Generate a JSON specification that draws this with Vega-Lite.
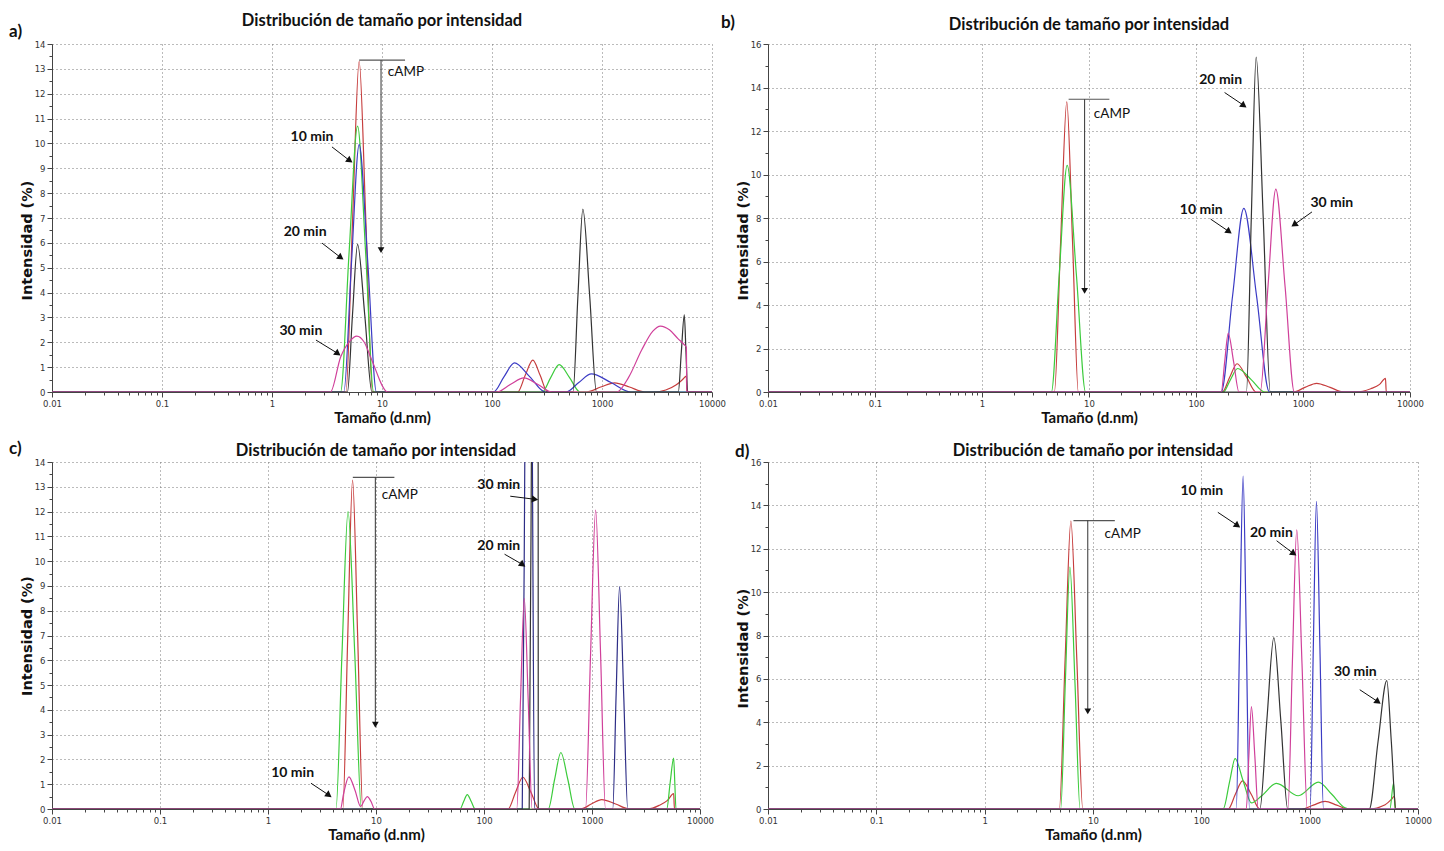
{
"$schema": "https://vega.github.io/schema/vega-lite/v6.json",
"background": "white",
"padding": {"left": 9, "top": 13, "right": 5, "bottom": 5},
"columns": 2,
"bounds": "flush",
"spacing": {"row": 70, "column": 56},
"resolve": {"scale": {"x": "independent", "y": "independent"}},
"config": {
 "view": {"stroke": null},
 "font": "Lato",
 "axis": {"domainColor": "#444", "tickColor": "#444", "labelFont": "DejaVu Sans", "labelFontSize": 8.5, "labelColor": "#333", "gridColor": "#777", "gridDash": [1, 3], "gridWidth": 1, "titleFont": "Lato", "titleFontWeight": "bold", "titleColor": "#111"},
 "axisX": {"titleFontSize": 15, "titlePadding": 3},
 "axisY": {"titleFont": "DejaVu Sans", "titleFontSize": 14.5, "titlePadding": 0},
 "title": {"font": "Lato", "fontSize": 16.5, "fontWeight": "bold", "color": "#111"}
},
"datasets": {
 "curves": [
  {"p":"a","s":"red","x":0.01,"y":0},{"p":"a","s":"red","x":4.7,"y":0},{"p":"a","s":"red","x":5.4,"y":6.9},{"p":"a","s":"red","x":6.2,"y":13.3},{"p":"a","s":"red","x":7.13,"y":6.9},{"p":"a","s":"red","x":8.2,"y":0},{"p":"a","s":"red","x":171,"y":0},{"p":"a","s":"red","x":200.5,"y":0.67},{"p":"a","s":"red","x":235,"y":1.28},{"p":"a","s":"red","x":274,"y":0.67},{"p":"a","s":"red","x":320,"y":0},{"p":"a","s":"red","x":728,"y":0},{"p":"a","s":"red","x":973,"y":0.2},{"p":"a","s":"red","x":1300,"y":0.37},{"p":"a","s":"red","x":1777,"y":0.2},{"p":"a","s":"red","x":2430,"y":0},{"p":"a","s":"red","x":2950,"y":0},{"p":"a","s":"red","x":3800,"y":0.08},{"p":"a","s":"red","x":4700,"y":0.28},{"p":"a","s":"red","x":5400,"y":0.5},{"p":"a","s":"red","x":5850,"y":0.64},{"p":"a","s":"red","x":5900,"y":0},{"p":"a","s":"red","x":10000,"y":0},
  {"p":"a","s":"green","x":0.01,"y":0},{"p":"a","s":"green","x":4.2,"y":0},{"p":"a","s":"green","x":5.02,"y":5.6},{"p":"a","s":"green","x":6.0,"y":10.7},{"p":"a","s":"green","x":7.1,"y":5.6},{"p":"a","s":"green","x":8.4,"y":0},{"p":"a","s":"green","x":286,"y":0},{"p":"a","s":"green","x":341.6,"y":0.58},{"p":"a","s":"green","x":408,"y":1.1},{"p":"a","s":"green","x":507,"y":0.58},{"p":"a","s":"green","x":631,"y":0},{"p":"a","s":"green","x":10000,"y":0},
  {"p":"a","s":"blue","x":0.01,"y":0},{"p":"a","s":"blue","x":4.5,"y":0},{"p":"a","s":"blue","x":5.28,"y":5.2},{"p":"a","s":"blue","x":6.2,"y":9.95},{"p":"a","s":"blue","x":7.43,"y":5.2},{"p":"a","s":"blue","x":8.9,"y":0},{"p":"a","s":"blue","x":103,"y":0},{"p":"a","s":"blue","x":128.4,"y":0.61},{"p":"a","s":"blue","x":160,"y":1.17},{"p":"a","s":"blue","x":220.9,"y":0.61},{"p":"a","s":"blue","x":305,"y":0},{"p":"a","s":"blue","x":472,"y":0},{"p":"a","s":"blue","x":615,"y":0.38},{"p":"a","s":"blue","x":801,"y":0.73},{"p":"a","s":"blue","x":1207,"y":0.38},{"p":"a","s":"blue","x":1820,"y":0},{"p":"a","s":"blue","x":10000,"y":0},
  {"p":"a","s":"black","x":0.01,"y":0},{"p":"a","s":"black","x":4.85,"y":0},{"p":"a","s":"black","x":5.39,"y":3.1},{"p":"a","s":"black","x":6.0,"y":5.94},{"p":"a","s":"black","x":6.97,"y":3.1},{"p":"a","s":"black","x":8.1,"y":0},{"p":"a","s":"black","x":545,"y":0},{"p":"a","s":"black","x":604,"y":3.85},{"p":"a","s":"black","x":670,"y":7.36},{"p":"a","s":"black","x":773,"y":3.85},{"p":"a","s":"black","x":891,"y":0},{"p":"a","s":"black","x":4940,"y":0},{"p":"a","s":"black","x":5260,"y":1.6},{"p":"a","s":"black","x":5600,"y":3.1},{"p":"a","s":"black","x":5801,"y":1.6},{"p":"a","s":"black","x":6010,"y":0},{"p":"a","s":"black","x":10000,"y":0},
  {"p":"a","s":"magenta","x":0.01,"y":0},{"p":"a","s":"magenta","x":3.4,"y":0},{"p":"a","s":"magenta","x":4.2,"y":1.4},{"p":"a","s":"magenta","x":5.1,"y":2.05},{"p":"a","s":"magenta","x":5.9,"y":2.25},{"p":"a","s":"magenta","x":6.9,"y":2.0},{"p":"a","s":"magenta","x":8.05,"y":1.3},{"p":"a","s":"magenta","x":11.3,"y":0},{"p":"a","s":"magenta","x":110,"y":0},{"p":"a","s":"magenta","x":146.5,"y":0.3},{"p":"a","s":"magenta","x":195,"y":0.57},{"p":"a","s":"magenta","x":262,"y":0.3},{"p":"a","s":"magenta","x":353,"y":0},{"p":"a","s":"magenta","x":1358,"y":0},{"p":"a","s":"magenta","x":1750,"y":0.6},{"p":"a","s":"magenta","x":2300,"y":1.7},{"p":"a","s":"magenta","x":2900,"y":2.45},{"p":"a","s":"magenta","x":3400,"y":2.65},{"p":"a","s":"magenta","x":4100,"y":2.5},{"p":"a","s":"magenta","x":4900,"y":2.15},{"p":"a","s":"magenta","x":5600,"y":1.9},{"p":"a","s":"magenta","x":5850,"y":1.8},{"p":"a","s":"magenta","x":5900,"y":0},{"p":"a","s":"magenta","x":10000,"y":0},

  {"p":"b","s":"red","x":0.01,"y":0},{"p":"b","s":"red","x":4.75,"y":0},{"p":"b","s":"red","x":5.43,"y":6.9},{"p":"b","s":"red","x":6.2,"y":13.34},{"p":"b","s":"red","x":7.02,"y":6.9},{"p":"b","s":"red","x":7.95,"y":0},{"p":"b","s":"red","x":176,"y":0},{"p":"b","s":"red","x":206.4,"y":0.68},{"p":"b","s":"red","x":242,"y":1.3},{"p":"b","s":"red","x":297,"y":0.68},{"p":"b","s":"red","x":365,"y":0},{"p":"b","s":"red","x":810,"y":0},{"p":"b","s":"red","x":1042,"y":0.21},{"p":"b","s":"red","x":1340,"y":0.4},{"p":"b","s":"red","x":1793,"y":0.21},{"p":"b","s":"red","x":2400,"y":0},{"p":"b","s":"red","x":3100,"y":0},{"p":"b","s":"red","x":4300,"y":0.15},{"p":"b","s":"red","x":5200,"y":0.35},{"p":"b","s":"red","x":5900,"y":0.63},{"p":"b","s":"red","x":6000,"y":0},{"p":"b","s":"red","x":10000,"y":0},
  {"p":"b","s":"green","x":0.01,"y":0},{"p":"b","s":"green","x":4.45,"y":0},{"p":"b","s":"green","x":5.27,"y":5.4},{"p":"b","s":"green","x":6.25,"y":10.42},{"p":"b","s":"green","x":7.62,"y":5.4},{"p":"b","s":"green","x":9.3,"y":0},{"p":"b","s":"green","x":180,"y":0},{"p":"b","s":"green","x":210,"y":0.57},{"p":"b","s":"green","x":245,"y":1.08},{"p":"b","s":"green","x":328,"y":0.57},{"p":"b","s":"green","x":440,"y":0},{"p":"b","s":"green","x":10000,"y":0},
  {"p":"b","s":"blue","x":0.01,"y":0},{"p":"b","s":"blue","x":172,"y":0},{"p":"b","s":"blue","x":219.5,"y":4.4},{"p":"b","s":"blue","x":280,"y":8.44},{"p":"b","s":"blue","x":368.5,"y":4.4},{"p":"b","s":"blue","x":485,"y":0},{"p":"b","s":"blue","x":10000,"y":0},
  {"p":"b","s":"black","x":0.01,"y":0},{"p":"b","s":"black","x":296,"y":0},{"p":"b","s":"black","x":328.7,"y":8.0},{"p":"b","s":"black","x":365,"y":15.4},{"p":"b","s":"black","x":425,"y":8.0},{"p":"b","s":"black","x":495,"y":0},{"p":"b","s":"black","x":10000,"y":0},
  {"p":"b","s":"magenta","x":0.01,"y":0},{"p":"b","s":"magenta","x":172,"y":0},{"p":"b","s":"magenta","x":185.5,"y":1.4},{"p":"b","s":"magenta","x":200,"y":2.7},{"p":"b","s":"magenta","x":224.5,"y":1.4},{"p":"b","s":"magenta","x":252,"y":0},{"p":"b","s":"magenta","x":398,"y":0},{"p":"b","s":"magenta","x":470.8,"y":4.85},{"p":"b","s":"magenta","x":557,"y":9.33},{"p":"b","s":"magenta","x":680,"y":4.85},{"p":"b","s":"magenta","x":830,"y":0},{"p":"b","s":"magenta","x":10000,"y":0},

  {"p":"c","s":"red","x":0.01,"y":0},{"p":"c","s":"red","x":4.93,"y":0},{"p":"c","s":"red","x":5.47,"y":6.9},{"p":"c","s":"red","x":6.07,"y":13.27},{"p":"c","s":"red","x":6.77,"y":6.9},{"p":"c","s":"red","x":7.55,"y":0},{"p":"c","s":"red","x":167,"y":0},{"p":"c","s":"red","x":195.6,"y":0.67},{"p":"c","s":"red","x":229,"y":1.28},{"p":"c","s":"red","x":272.4,"y":0.67},{"p":"c","s":"red","x":324,"y":0},{"p":"c","s":"red","x":789,"y":0},{"p":"c","s":"red","x":985,"y":0.2},{"p":"c","s":"red","x":1230,"y":0.38},{"p":"c","s":"red","x":1656,"y":0.2},{"p":"c","s":"red","x":2230,"y":0},{"p":"c","s":"red","x":3300,"y":0},{"p":"c","s":"red","x":4200,"y":0.15},{"p":"c","s":"red","x":5000,"y":0.35},{"p":"c","s":"red","x":5700,"y":0.62},{"p":"c","s":"red","x":5800,"y":0},{"p":"c","s":"red","x":10000,"y":0},
  {"p":"c","s":"green","x":0.01,"y":0},{"p":"c","s":"green","x":4.26,"y":0},{"p":"c","s":"green","x":4.84,"y":6.25},{"p":"c","s":"green","x":5.51,"y":12.0},{"p":"c","s":"green","x":6.36,"y":6.25},{"p":"c","s":"green","x":7.33,"y":0},{"p":"c","s":"green","x":60,"y":0},{"p":"c","s":"green","x":64.8,"y":0.3},{"p":"c","s":"green","x":70,"y":0.58},{"p":"c","s":"green","x":76.2,"y":0.3},{"p":"c","s":"green","x":83,"y":0},{"p":"c","s":"green","x":394,"y":0},{"p":"c","s":"green","x":450.5,"y":1.19},{"p":"c","s":"green","x":515,"y":2.28},{"p":"c","s":"green","x":597.4,"y":1.19},{"p":"c","s":"green","x":693,"y":0},{"p":"c","s":"green","x":4920,"y":0},{"p":"c","s":"green","x":5296,"y":1.07},{"p":"c","s":"green","x":5700,"y":2.05},{"p":"c","s":"green","x":5843,"y":1.07},{"p":"c","s":"green","x":5990,"y":0},{"p":"c","s":"green","x":10000,"y":0},
  {"p":"c","s":"navy","x":0.01,"y":0},{"p":"c","s":"navy","x":226,"y":0},{"p":"c","s":"navy","x":240,"y":16},{"p":"c","s":"navy","x":257,"y":38},{"p":"c","s":"navy","x":279,"y":16},{"p":"c","s":"navy","x":294,"y":0},{"p":"c","s":"navy","x":1556,"y":0},{"p":"c","s":"navy","x":1673.5,"y":4.66},{"p":"c","s":"navy","x":1800,"y":8.97},{"p":"c","s":"navy","x":1964,"y":4.66},{"p":"c","s":"navy","x":2143,"y":0},{"p":"c","s":"navy","x":10000,"y":0},
  {"p":"c","s":"black","x":0.01,"y":0},{"p":"c","s":"black","x":262,"y":0},{"p":"c","s":"black","x":279,"y":20},{"p":"c","s":"black","x":316,"y":40},{"p":"c","s":"black","x":318,"y":0},{"p":"c","s":"black","x":10000,"y":0},
  {"p":"c","s":"magenta","x":0.01,"y":0},{"p":"c","s":"magenta","x":4.69,"y":0},{"p":"c","s":"magenta","x":5.0,"y":0.6},{"p":"c","s":"magenta","x":5.61,"y":1.3},{"p":"c","s":"magenta","x":6.4,"y":0.75},{"p":"c","s":"magenta","x":7.2,"y":0.1},{"p":"c","s":"magenta","x":7.8,"y":0.35},{"p":"c","s":"magenta","x":8.3,"y":0.5},{"p":"c","s":"magenta","x":9.0,"y":0.3},{"p":"c","s":"magenta","x":9.7,"y":0},{"p":"c","s":"magenta","x":201,"y":0},{"p":"c","s":"magenta","x":217.8,"y":4.4},{"p":"c","s":"magenta","x":236,"y":8.5},{"p":"c","s":"magenta","x":256.6,"y":4.4},{"p":"c","s":"magenta","x":279,"y":0},{"p":"c","s":"magenta","x":871,"y":0},{"p":"c","s":"magenta","x":970.3,"y":6.27},{"p":"c","s":"magenta","x":1081,"y":12.06},{"p":"c","s":"magenta","x":1200.4,"y":6.27},{"p":"c","s":"magenta","x":1333,"y":0},{"p":"c","s":"magenta","x":10000,"y":0},

  {"p":"d","s":"red","x":0.01,"y":0},{"p":"d","s":"red","x":4.89,"y":0},{"p":"d","s":"red","x":5.53,"y":6.9},{"p":"d","s":"red","x":6.25,"y":13.28},{"p":"d","s":"red","x":7.09,"y":6.9},{"p":"d","s":"red","x":8.05,"y":0},{"p":"d","s":"red","x":177,"y":0},{"p":"d","s":"red","x":206.1,"y":0.68},{"p":"d","s":"red","x":240,"y":1.3},{"p":"d","s":"red","x":288.6,"y":0.68},{"p":"d","s":"red","x":347,"y":0},{"p":"d","s":"red","x":843,"y":0},{"p":"d","s":"red","x":1081,"y":0.18},{"p":"d","s":"red","x":1387,"y":0.35},{"p":"d","s":"red","x":1777,"y":0.18},{"p":"d","s":"red","x":2278,"y":0},{"p":"d","s":"red","x":3490,"y":0},{"p":"d","s":"red","x":4980,"y":0.2},{"p":"d","s":"red","x":5700,"y":0.45},{"p":"d","s":"red","x":6080,"y":0.6},{"p":"d","s":"red","x":6150,"y":0},{"p":"d","s":"red","x":10000,"y":0},
  {"p":"d","s":"green","x":0.01,"y":0},{"p":"d","s":"green","x":5.03,"y":0},{"p":"d","s":"green","x":5.55,"y":5.8},{"p":"d","s":"green","x":6.12,"y":11.15},{"p":"d","s":"green","x":6.82,"y":5.8},{"p":"d","s":"green","x":7.6,"y":0},{"p":"d","s":"green","x":159,"y":0},{"p":"d","s":"green","x":183,"y":1.3},{"p":"d","s":"green","x":205,"y":2.32},{"p":"d","s":"green","x":243,"y":1.3},{"p":"d","s":"green","x":290,"y":0.28},{"p":"d","s":"green","x":359,"y":0.6},{"p":"d","s":"green","x":494,"y":1.18},{"p":"d","s":"green","x":785,"y":0.61},{"p":"d","s":"green","x":1203,"y":1.24},{"p":"d","s":"green","x":1600,"y":0.68},{"p":"d","s":"green","x":2125,"y":0.05},{"p":"d","s":"green","x":2300,"y":0},{"p":"d","s":"green","x":5500,"y":0},{"p":"d","s":"green","x":5950,"y":1.2},{"p":"d","s":"green","x":6150,"y":0},{"p":"d","s":"green","x":10000,"y":0},
  {"p":"d","s":"blue","x":0.01,"y":0},{"p":"d","s":"blue","x":210,"y":0},{"p":"d","s":"blue","x":225.9,"y":8.0},{"p":"d","s":"blue","x":243,"y":15.35},{"p":"d","s":"blue","x":259.9,"y":8.0},{"p":"d","s":"blue","x":278,"y":0},{"p":"d","s":"blue","x":1010,"y":0},{"p":"d","s":"blue","x":1080,"y":7.4},{"p":"d","s":"blue","x":1155,"y":14.18},{"p":"d","s":"blue","x":1244,"y":7.4},{"p":"d","s":"blue","x":1340,"y":0},{"p":"d","s":"blue","x":10000,"y":0},
  {"p":"d","s":"black","x":0.01,"y":0},{"p":"d","s":"black","x":347,"y":0},{"p":"d","s":"black","x":402.6,"y":4.1},{"p":"d","s":"black","x":467,"y":7.9},{"p":"d","s":"black","x":541.1,"y":4.1},{"p":"d","s":"black","x":627,"y":0},{"p":"d","s":"black","x":3550,"y":0},{"p":"d","s":"black","x":4276,"y":3.1},{"p":"d","s":"black","x":5150,"y":5.92},{"p":"d","s":"black","x":5673,"y":3.1},{"p":"d","s":"black","x":6250,"y":0},{"p":"d","s":"black","x":10000,"y":0},
  {"p":"d","s":"magenta","x":0.01,"y":0},{"p":"d","s":"magenta","x":260,"y":0},{"p":"d","s":"magenta","x":274.6,"y":2.45},{"p":"d","s":"magenta","x":290,"y":4.72},{"p":"d","s":"magenta","x":311.7,"y":2.45},{"p":"d","s":"magenta","x":335,"y":0},{"p":"d","s":"magenta","x":630,"y":0},{"p":"d","s":"magenta","x":692,"y":6.7},{"p":"d","s":"magenta","x":760,"y":12.87},{"p":"d","s":"magenta","x":849.7,"y":6.7},{"p":"d","s":"magenta","x":950,"y":0},{"p":"d","s":"magenta","x":10000,"y":0}
 ],
 "notes": [
  {"p":"a","k":"bracket","x":6.2,"x2":16.2,"y":13.35},
  {"p":"a","k":"stem","x":9.8,"y":5.71,"y2":13.35},
  {"p":"a","k":"camp","x":11.3,"y":12.87,"t":"cAMP"},
  {"p":"a","k":"label","x":2.31,"y":10.26,"t":"10 min"},
  {"p":"a","k":"se","x":5.01,"y":9.33,"x2":3.51,"y2":9.86},
  {"p":"a","k":"label","x":2.0,"y":6.44,"t":"20 min"},
  {"p":"a","k":"se","x":4.15,"y":5.43,"x2":2.85,"y2":5.99},
  {"p":"a","k":"label","x":1.83,"y":2.45,"t":"30 min"},
  {"p":"a","k":"se","x":3.9,"y":1.57,"x2":2.51,"y2":2.09},
  {"p":"a","k":"letter","x":0.00407,"y":14.48,"t":"a)"},
  {"p":"b","k":"bracket","x":6.45,"x2":15.5,"y":13.46},
  {"p":"b","k":"stem","x":9.1,"y":4.65,"y2":13.46},
  {"p":"b","k":"camp","x":11.1,"y":12.8,"t":"cAMP"},
  {"p":"b","k":"label","x":170,"y":14.33,"t":"20 min"},
  {"p":"b","k":"se","x":275,"y":13.2,"x2":185,"y2":13.77},
  {"p":"b","k":"label","x":112,"y":8.37,"t":"10 min"},
  {"p":"b","k":"se","x":200,"y":7.4,"x2":137,"y2":7.95},
  {"p":"b","k":"label","x":1860,"y":8.68,"t":"30 min"},
  {"p":"b","k":"sw","x":841,"y":7.72,"x2":1213,"y2":8.28},
  {"p":"b","k":"letter","x":0.00364,"y":16.97,"t":"b)"},
  {"p":"c","k":"bracket","x":6.1,"x2":14.8,"y":13.38},
  {"p":"c","k":"stem","x":9.86,"y":3.4,"y2":13.38},
  {"p":"c","k":"camp","x":11.3,"y":12.66,"t":"cAMP"},
  {"p":"c","k":"label","x":1.69,"y":1.47,"t":"10 min"},
  {"p":"c","k":"se","x":3.6,"y":0.58,"x2":2.5,"y2":1.04},
  {"p":"c","k":"label","x":137,"y":13.08,"t":"30 min"},
  {"p":"c","k":"e","x":290,"y":12.5,"x2":175,"y2":12.62},
  {"p":"c","k":"label","x":137,"y":10.6,"t":"20 min"},
  {"p":"c","k":"se","x":224,"y":9.88,"x2":155,"y2":10.28},
  {"p":"c","k":"letter","x":0.004,"y":14.52,"t":"c)"},
  {"p":"d","k":"bracket","x":6.6,"x2":15.9,"y":13.3},
  {"p":"d","k":"stem","x":8.95,"y":4.5,"y2":13.3},
  {"p":"d","k":"camp","x":12.8,"y":12.7,"t":"cAMP"},
  {"p":"d","k":"label","x":101,"y":14.67,"t":"10 min"},
  {"p":"d","k":"se","x":212,"y":13.1,"x2":142,"y2":13.68},
  {"p":"d","k":"label","x":443,"y":12.74,"t":"20 min"},
  {"p":"d","k":"se","x":700,"y":11.8,"x2":495,"y2":12.37},
  {"p":"d","k":"label","x":2640,"y":6.34,"t":"30 min"},
  {"p":"d","k":"se","x":4200,"y":4.97,"x2":2900,"y2":5.5},
  {"p":"d","k":"letter","x":0.00496,"y":16.46,"t":"d)"}
 ]
},
"concat": [
 {
  "width": 660, "height": 348,
  "title": {"text": "Distribución de tamaño por intensidad", "offset": -6.5},
  "encoding": {
   "x": {"field": "x", "type": "quantitative", "scale": {"type": "log", "domain": [0.01, 10000], "nice": false},
    "axis": {"title": "Tamaño (d.nm)", "values": [0.01,0.02,0.03,0.04,0.05,0.06,0.07,0.08,0.09,0.1,0.2,0.3,0.4,0.5,0.6,0.7,0.8,0.9,1,2,3,4,5,6,7,8,9,10,20,30,40,50,60,70,80,90,100,200,300,400,500,600,700,800,900,1000,2000,3000,4000,5000,6000,7000,8000,9000,10000], "format": "~g", "labelExpr": "indexof([0.01,0.1,1,10,100,1000,10000], datum.value) >= 0 ? datum.label : ''", "labelOverlap": false, "labelFlush": false, "grid": true, "gridOpacity": {"condition": {"test": "indexof([0.01,0.1,1,10,100,1000,10000], datum.value) >= 0", "value": 1}, "value": 0}, "tickSize": {"condition": {"test": "indexof([0.01,0.1,1,10,100,1000,10000], datum.value) >= 0", "value": 5}, "value": 3}}},
   "y": {"field": "y", "type": "quantitative", "scale": {"domain": [0, 14], "nice": false, "zero": false},
    "axis": {"title": "Intensidad (%)", "titleY": 196, "values": [0,0.5,1,1.5,2,2.5,3,3.5,4,4.5,5,5.5,6,6.5,7,7.5,8,8.5,9,9.5,10,10.5,11,11.5,12,12.5,13,13.5,14], "format": "~g", "labelExpr": "datum.value % 1 === 0 ? datum.label : ''", "labelOverlap": false, "labelFlush": false, "grid": true, "gridOpacity": {"condition": {"test": "datum.value % 1 === 0", "value": 1}, "value": 0}, "tickSize": {"condition": {"test": "datum.value % 1 === 0", "value": 5}, "value": 3}}}
  },
  "layer": [
   {"data": {"name": "curves"}, "transform": [{"filter": "datum.p === 'a'"}], "mark": {"type": "line", "interpolate": "monotone", "strokeWidth": 1.2, "clip": true}, "encoding": {"color": {"field": "s", "type": "nominal", "scale": {"domain": ["red","green","blue","black","navy","magenta"], "range": ["#C63D3D","#3CCB3C","#3B3BC4","#333333","#2D2D86","#D0409A"]}, "legend": null}}},
   {"data": {"name": "notes"}, "transform": [{"filter": "datum.p === 'a' && datum.k === 'bracket'"}], "mark": {"type": "rule", "color": "#555", "strokeWidth": 1.2}, "encoding": {"x2": {"field": "x2"}}},
   {"data": {"name": "notes"}, "transform": [{"filter": "datum.p === 'a' && datum.k === 'stem'"}], "mark": {"type": "rule", "color": "#333", "strokeWidth": 1}, "encoding": {"y2": {"field": "y2"}}},
   {"data": {"name": "notes"}, "transform": [{"filter": "datum.p === 'a' && (datum.k === 'se' || datum.k === 'sw' || datum.k === 'e')"}], "mark": {"type": "rule", "color": "#111", "strokeWidth": 1}, "encoding": {"x2": {"field": "x2"}, "y2": {"field": "y2"}}},
   {"data": {"name": "notes"}, "transform": [{"filter": "datum.p === 'a' && datum.k === 'stem'"}], "mark": {"type": "point", "shape": "triangle-down", "filled": true, "color": "#111", "size": 45, "opacity": 1}},
   {"data": {"name": "notes"}, "transform": [{"filter": "datum.p === 'a' && datum.k === 'se'"}], "mark": {"type": "point", "shape": "triangle", "angle": 126, "filled": true, "color": "#111", "size": 55, "opacity": 1}},
   {"data": {"name": "notes"}, "transform": [{"filter": "datum.p === 'a' && datum.k === 'label'"}], "mark": {"type": "text", "font": "Lato", "fontWeight": "bold", "fontSize": 14, "color": "#111"}, "encoding": {"text": {"field": "t"}}},
   {"data": {"name": "notes"}, "transform": [{"filter": "datum.p === 'a' && datum.k === 'camp'"}], "mark": {"type": "text", "align": "left", "font": "Lato", "fontSize": 13.5, "color": "#111"}, "encoding": {"text": {"field": "t"}}},
   {"data": {"name": "notes"}, "transform": [{"filter": "datum.p === 'a' && datum.k === 'letter'"}], "mark": {"type": "text", "align": "left", "font": "Lato", "fontWeight": "bold", "fontSize": 17, "color": "#111"}, "encoding": {"text": {"field": "t"}}}
  ]
 },
 {
  "width": 642, "height": 348,
  "title": {"text": "Distribución de tamaño por intensidad", "offset": -19.5},
  "encoding": {
   "x": {"field": "x", "type": "quantitative", "scale": {"type": "log", "domain": [0.01, 10000], "nice": false},
    "axis": {"title": "Tamaño (d.nm)", "values": [0.01,0.02,0.03,0.04,0.05,0.06,0.07,0.08,0.09,0.1,0.2,0.3,0.4,0.5,0.6,0.7,0.8,0.9,1,2,3,4,5,6,7,8,9,10,20,30,40,50,60,70,80,90,100,200,300,400,500,600,700,800,900,1000,2000,3000,4000,5000,6000,7000,8000,9000,10000], "format": "~g", "labelExpr": "indexof([0.01,0.1,1,10,100,1000,10000], datum.value) >= 0 ? datum.label : ''", "labelOverlap": false, "labelFlush": false, "grid": true, "gridOpacity": {"condition": {"test": "indexof([0.01,0.1,1,10,100,1000,10000], datum.value) >= 0", "value": 1}, "value": 0}, "tickSize": {"condition": {"test": "indexof([0.01,0.1,1,10,100,1000,10000], datum.value) >= 0", "value": 5}, "value": 3}}},
   "y": {"field": "y", "type": "quantitative", "scale": {"domain": [0, 16], "nice": false, "zero": false},
    "axis": {"title": "Intensidad (%)", "titleY": 196, "values": [0,1,2,3,4,5,6,7,8,9,10,11,12,13,14,15,16], "format": "~g", "labelExpr": "datum.value % 2 === 0 ? datum.label : ''", "labelOverlap": false, "labelFlush": false, "grid": true, "gridOpacity": {"condition": {"test": "datum.value % 2 === 0", "value": 1}, "value": 0}, "tickSize": {"condition": {"test": "datum.value % 2 === 0", "value": 5}, "value": 3}}}
  },
  "layer": [
   {"data": {"name": "curves"}, "transform": [{"filter": "datum.p === 'b'"}], "mark": {"type": "line", "interpolate": "monotone", "strokeWidth": 1.2, "clip": true}, "encoding": {"color": {"field": "s", "type": "nominal", "scale": {"domain": ["red","green","blue","black","navy","magenta"], "range": ["#C63D3D","#3CCB3C","#3B3BC4","#333333","#2D2D86","#D0409A"]}, "legend": null}}},
   {"data": {"name": "notes"}, "transform": [{"filter": "datum.p === 'b' && datum.k === 'bracket'"}], "mark": {"type": "rule", "color": "#555", "strokeWidth": 1.2}, "encoding": {"x2": {"field": "x2"}}},
   {"data": {"name": "notes"}, "transform": [{"filter": "datum.p === 'b' && datum.k === 'stem'"}], "mark": {"type": "rule", "color": "#333", "strokeWidth": 1}, "encoding": {"y2": {"field": "y2"}}},
   {"data": {"name": "notes"}, "transform": [{"filter": "datum.p === 'b' && (datum.k === 'se' || datum.k === 'sw' || datum.k === 'e')"}], "mark": {"type": "rule", "color": "#111", "strokeWidth": 1}, "encoding": {"x2": {"field": "x2"}, "y2": {"field": "y2"}}},
   {"data": {"name": "notes"}, "transform": [{"filter": "datum.p === 'b' && datum.k === 'stem'"}], "mark": {"type": "point", "shape": "triangle-down", "filled": true, "color": "#111", "size": 45, "opacity": 1}},
   {"data": {"name": "notes"}, "transform": [{"filter": "datum.p === 'b' && datum.k === 'se'"}], "mark": {"type": "point", "shape": "triangle", "angle": 126, "filled": true, "color": "#111", "size": 55, "opacity": 1}},
   {"data": {"name": "notes"}, "transform": [{"filter": "datum.p === 'b' && datum.k === 'sw'"}], "mark": {"type": "point", "shape": "triangle", "angle": 235, "filled": true, "color": "#111", "size": 55, "opacity": 1}},
   {"data": {"name": "notes"}, "transform": [{"filter": "datum.p === 'b' && datum.k === 'label'"}], "mark": {"type": "text", "font": "Lato", "fontWeight": "bold", "fontSize": 14, "color": "#111"}, "encoding": {"text": {"field": "t"}}},
   {"data": {"name": "notes"}, "transform": [{"filter": "datum.p === 'b' && datum.k === 'camp'"}], "mark": {"type": "text", "align": "left", "font": "Lato", "fontSize": 13.5, "color": "#111"}, "encoding": {"text": {"field": "t"}}},
   {"data": {"name": "notes"}, "transform": [{"filter": "datum.p === 'b' && datum.k === 'letter'"}], "mark": {"type": "text", "align": "left", "font": "Lato", "fontWeight": "bold", "fontSize": 17, "color": "#111"}, "encoding": {"text": {"field": "t"}}}
  ]
 },
 {
  "width": 648, "height": 347,
  "title": {"text": "Distribución de tamaño por intensidad", "offset": -19},
  "encoding": {
   "x": {"field": "x", "type": "quantitative", "scale": {"type": "log", "domain": [0.01, 10000], "nice": false},
    "axis": {"title": "Tamaño (d.nm)", "values": [0.01,0.02,0.03,0.04,0.05,0.06,0.07,0.08,0.09,0.1,0.2,0.3,0.4,0.5,0.6,0.7,0.8,0.9,1,2,3,4,5,6,7,8,9,10,20,30,40,50,60,70,80,90,100,200,300,400,500,600,700,800,900,1000,2000,3000,4000,5000,6000,7000,8000,9000,10000], "format": "~g", "labelExpr": "indexof([0.01,0.1,1,10,100,1000,10000], datum.value) >= 0 ? datum.label : ''", "labelOverlap": false, "labelFlush": false, "grid": true, "gridOpacity": {"condition": {"test": "indexof([0.01,0.1,1,10,100,1000,10000], datum.value) >= 0", "value": 1}, "value": 0}, "tickSize": {"condition": {"test": "indexof([0.01,0.1,1,10,100,1000,10000], datum.value) >= 0", "value": 5}, "value": 3}}},
   "y": {"field": "y", "type": "quantitative", "scale": {"domain": [0, 14], "nice": false, "zero": false},
    "axis": {"title": "Intensidad (%)", "values": [0,0.5,1,1.5,2,2.5,3,3.5,4,4.5,5,5.5,6,6.5,7,7.5,8,8.5,9,9.5,10,10.5,11,11.5,12,12.5,13,13.5,14], "format": "~g", "labelExpr": "datum.value % 1 === 0 ? datum.label : ''", "labelOverlap": false, "labelFlush": false, "grid": true, "gridOpacity": {"condition": {"test": "datum.value % 1 === 0", "value": 1}, "value": 0}, "tickSize": {"condition": {"test": "datum.value % 1 === 0", "value": 5}, "value": 3}}}
  },
  "layer": [
   {"data": {"name": "curves"}, "transform": [{"filter": "datum.p === 'c'"}], "mark": {"type": "line", "interpolate": "monotone", "strokeWidth": 1.2, "clip": true}, "encoding": {"color": {"field": "s", "type": "nominal", "scale": {"domain": ["red","green","blue","black","navy","magenta"], "range": ["#C63D3D","#3CCB3C","#3B3BC4","#333333","#2D2D86","#D0409A"]}, "legend": null}}},
   {"data": {"name": "notes"}, "transform": [{"filter": "datum.p === 'c' && datum.k === 'bracket'"}], "mark": {"type": "rule", "color": "#555", "strokeWidth": 1.2}, "encoding": {"x2": {"field": "x2"}}},
   {"data": {"name": "notes"}, "transform": [{"filter": "datum.p === 'c' && datum.k === 'stem'"}], "mark": {"type": "rule", "color": "#333", "strokeWidth": 1}, "encoding": {"y2": {"field": "y2"}}},
   {"data": {"name": "notes"}, "transform": [{"filter": "datum.p === 'c' && (datum.k === 'se' || datum.k === 'sw' || datum.k === 'e')"}], "mark": {"type": "rule", "color": "#111", "strokeWidth": 1}, "encoding": {"x2": {"field": "x2"}, "y2": {"field": "y2"}}},
   {"data": {"name": "notes"}, "transform": [{"filter": "datum.p === 'c' && datum.k === 'stem'"}], "mark": {"type": "point", "shape": "triangle-down", "filled": true, "color": "#111", "size": 45, "opacity": 1}},
   {"data": {"name": "notes"}, "transform": [{"filter": "datum.p === 'c' && datum.k === 'se'"}], "mark": {"type": "point", "shape": "triangle", "angle": 126, "filled": true, "color": "#111", "size": 55, "opacity": 1}},
   {"data": {"name": "notes"}, "transform": [{"filter": "datum.p === 'c' && datum.k === 'e'"}], "mark": {"type": "point", "shape": "triangle", "angle": 97, "filled": true, "color": "#111", "size": 55, "opacity": 1}},
   {"data": {"name": "notes"}, "transform": [{"filter": "datum.p === 'c' && datum.k === 'label'"}], "mark": {"type": "text", "font": "Lato", "fontWeight": "bold", "fontSize": 14, "color": "#111"}, "encoding": {"text": {"field": "t"}}},
   {"data": {"name": "notes"}, "transform": [{"filter": "datum.p === 'c' && datum.k === 'camp'"}], "mark": {"type": "text", "align": "left", "font": "Lato", "fontSize": 13.5, "color": "#111"}, "encoding": {"text": {"field": "t"}}},
   {"data": {"name": "notes"}, "transform": [{"filter": "datum.p === 'c' && datum.k === 'letter'"}], "mark": {"type": "text", "align": "left", "font": "Lato", "fontWeight": "bold", "fontSize": 17, "color": "#111"}, "encoding": {"text": {"field": "t"}}}
  ]
 },
 {
  "width": 650, "height": 347,
  "title": {"text": "Distribución de tamaño por intensidad", "offset": -16.5},
  "encoding": {
   "x": {"field": "x", "type": "quantitative", "scale": {"type": "log", "domain": [0.01, 10000], "nice": false},
    "axis": {"title": "Tamaño (d.nm)", "values": [0.01,0.02,0.03,0.04,0.05,0.06,0.07,0.08,0.09,0.1,0.2,0.3,0.4,0.5,0.6,0.7,0.8,0.9,1,2,3,4,5,6,7,8,9,10,20,30,40,50,60,70,80,90,100,200,300,400,500,600,700,800,900,1000,2000,3000,4000,5000,6000,7000,8000,9000,10000], "format": "~g", "labelExpr": "indexof([0.01,0.1,1,10,100,1000,10000], datum.value) >= 0 ? datum.label : ''", "labelOverlap": false, "labelFlush": false, "grid": true, "gridOpacity": {"condition": {"test": "indexof([0.01,0.1,1,10,100,1000,10000], datum.value) >= 0", "value": 1}, "value": 0}, "tickSize": {"condition": {"test": "indexof([0.01,0.1,1,10,100,1000,10000], datum.value) >= 0", "value": 5}, "value": 3}}},
   "y": {"field": "y", "type": "quantitative", "scale": {"domain": [0, 16], "nice": false, "zero": false},
    "axis": {"title": "Intensidad (%)", "titleY": 186, "values": [0,1,2,3,4,5,6,7,8,9,10,11,12,13,14,15,16], "format": "~g", "labelExpr": "datum.value % 2 === 0 ? datum.label : ''", "labelOverlap": false, "labelFlush": false, "grid": true, "gridOpacity": {"condition": {"test": "datum.value % 2 === 0", "value": 1}, "value": 0}, "tickSize": {"condition": {"test": "datum.value % 2 === 0", "value": 5}, "value": 3}}}
  },
  "layer": [
   {"data": {"name": "curves"}, "transform": [{"filter": "datum.p === 'd'"}], "mark": {"type": "line", "interpolate": "monotone", "strokeWidth": 1.2, "clip": true}, "encoding": {"color": {"field": "s", "type": "nominal", "scale": {"domain": ["red","green","blue","black","navy","magenta"], "range": ["#C63D3D","#3CCB3C","#3B3BC4","#333333","#2D2D86","#D0409A"]}, "legend": null}}},
   {"data": {"name": "notes"}, "transform": [{"filter": "datum.p === 'd' && datum.k === 'bracket'"}], "mark": {"type": "rule", "color": "#555", "strokeWidth": 1.2}, "encoding": {"x2": {"field": "x2"}}},
   {"data": {"name": "notes"}, "transform": [{"filter": "datum.p === 'd' && datum.k === 'stem'"}], "mark": {"type": "rule", "color": "#333", "strokeWidth": 1}, "encoding": {"y2": {"field": "y2"}}},
   {"data": {"name": "notes"}, "transform": [{"filter": "datum.p === 'd' && (datum.k === 'se' || datum.k === 'sw' || datum.k === 'e')"}], "mark": {"type": "rule", "color": "#111", "strokeWidth": 1}, "encoding": {"x2": {"field": "x2"}, "y2": {"field": "y2"}}},
   {"data": {"name": "notes"}, "transform": [{"filter": "datum.p === 'd' && datum.k === 'stem'"}], "mark": {"type": "point", "shape": "triangle-down", "filled": true, "color": "#111", "size": 45, "opacity": 1}},
   {"data": {"name": "notes"}, "transform": [{"filter": "datum.p === 'd' && datum.k === 'se'"}], "mark": {"type": "point", "shape": "triangle", "angle": 126, "filled": true, "color": "#111", "size": 55, "opacity": 1}},
   {"data": {"name": "notes"}, "transform": [{"filter": "datum.p === 'd' && datum.k === 'label'"}], "mark": {"type": "text", "font": "Lato", "fontWeight": "bold", "fontSize": 14, "color": "#111"}, "encoding": {"text": {"field": "t"}}},
   {"data": {"name": "notes"}, "transform": [{"filter": "datum.p === 'd' && datum.k === 'camp'"}], "mark": {"type": "text", "align": "left", "font": "Lato", "fontSize": 13.5, "color": "#111"}, "encoding": {"text": {"field": "t"}}},
   {"data": {"name": "notes"}, "transform": [{"filter": "datum.p === 'd' && datum.k === 'letter'"}], "mark": {"type": "text", "align": "left", "font": "Lato", "fontWeight": "bold", "fontSize": 17, "color": "#111"}, "encoding": {"text": {"field": "t"}}}
  ]
 }
]
}
